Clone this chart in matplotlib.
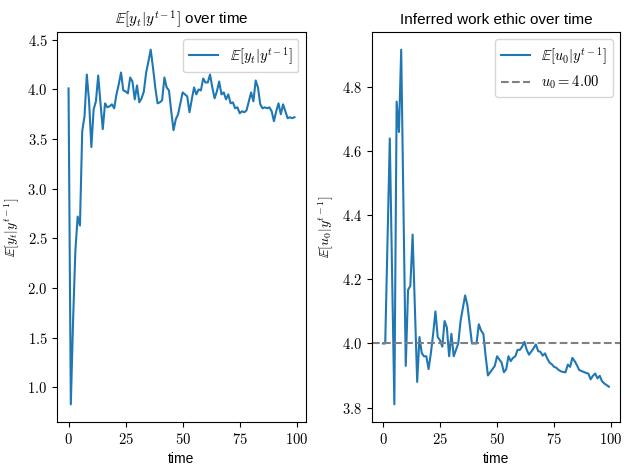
import numpy as np
import matplotlib
matplotlib.use('Agg')
import matplotlib.pyplot as plt
from matplotlib.ticker import FuncFormatter

# values
exp_y = [4.01, 0.83, 1.68, 2.38, 2.72, 2.63, 3.58, 3.73, 4.15, 3.88,
         3.42, 3.80, 3.88, 4.14, 3.86, 3.60, 3.86, 3.82, 3.83, 3.85,
         3.81, 3.95, 4.05, 4.17, 3.99, 3.98, 3.96, 4.12, 4.08, 3.90,
         4.04, 3.87, 3.91, 3.98, 4.17, 4.28, 4.40, 4.22, 4.02, 3.86,
         3.87, 3.89, 4.12, 4.02, 3.99, 3.78, 3.59, 3.70, 3.75, 3.86,
         3.97, 3.95, 3.93, 3.77, 3.90, 4.02, 3.95, 4.00, 3.99, 4.11,
         4.07, 4.07, 4.15, 4.02, 3.91, 3.98, 4.08, 3.95, 3.97, 3.90,
         3.95, 3.86, 3.87, 3.81, 3.82, 3.76, 3.78, 3.77, 3.79, 3.88,
         3.97, 3.88, 4.09, 4.02, 3.85, 3.81, 3.82, 3.81, 3.82, 3.78,
         3.68, 3.78, 3.86, 3.75, 3.85, 3.78, 3.71, 3.72, 3.71, 3.72]

exp_u0 = [4.00, 4.00, 4.32, 4.64, 4.22, 3.81, 4.755, 4.66, 4.917, 4.42,
          3.93, 4.167, 4.18, 4.34, 4.11, 3.88, 4.02, 3.97, 3.96, 3.96,
          3.92, 3.97, 4.03, 4.10, 4.02, 4.01, 3.99, 4.07, 4.05, 3.96,
          4.03, 3.96, 3.98, 4.00, 4.07, 4.11, 4.15, 4.12, 4.06, 4.00,
          4.00, 4.00, 4.06, 4.04, 4.03, 3.96, 3.90, 3.91, 3.92, 3.93,
          3.96, 3.95, 3.94, 3.91, 3.92, 3.96, 3.945, 3.955, 3.96, 3.98,
          3.98, 3.99, 4.005, 3.98, 3.965, 3.975, 3.985, 3.997, 3.976, 3.974,
          3.962, 3.969, 3.953, 3.94, 3.935, 3.927, 3.924, 3.917, 3.913, 3.911,
          3.91, 3.934, 3.927, 3.955, 3.945, 3.932, 3.917, 3.914, 3.911, 3.908,
          3.906, 3.888, 3.899, 3.906, 3.891, 3.899, 3.882, 3.875, 3.87, 3.865]

true_u0 = 4.0

plt.rcParams['mathtext.fontset'] = 'cm'
plt.rcParams['font.family'] = ['Liberation Sans', 'DejaVu Sans']
plt.rcParams['xtick.labelsize'] = 10.5
plt.rcParams['ytick.labelsize'] = 10.5

t = np.arange(len(exp_y))

fig, (ax1, ax2) = plt.subplots(1, 2, figsize=(6.29, 4.70), dpi=100)

mathfmt = lambda fmt: FuncFormatter(lambda v, p: '$' + (fmt % v) + '$')

ax1.plot(t, exp_y, label=r'$\mathbb{E}[y_t|y^{t-1}]$')
ax1.set_title(r'$\mathbb{E}[y_t|y^{t-1}]$ over time', fontsize=11)
ax1.set_xlabel('time')
ax1.set_ylabel(r'$\mathbb{E}[y_t|y^{t-1}]$')
ax1.legend(loc='upper right', fontsize=10.5)
ax1.xaxis.set_major_formatter(mathfmt('%d'))
ax1.yaxis.set_major_formatter(mathfmt('%.1f'))

ax2.plot(t, exp_u0, label=r'$\mathbb{E}[u_0|y^{t-1}]$')
ax2.axhline(true_u0, color='gray', linestyle='--', label=r'$u_0 = %.2f$' % true_u0)
ax2.set_title('Inferred work ethic over time', fontsize=11)
ax2.set_xlabel('time')
ax2.set_ylabel(r'$\mathbb{E}[u_0|y^{t-1}]$')
ax2.legend(loc='upper right', fontsize=10.5)
ax2.xaxis.set_major_formatter(mathfmt('%d'))
ax2.yaxis.set_major_formatter(mathfmt('%.1f'))

fig.subplots_adjust(left=0.091, right=0.986, top=0.932, bottom=0.102, wspace=0.265)
fig.savefig('out.png')
